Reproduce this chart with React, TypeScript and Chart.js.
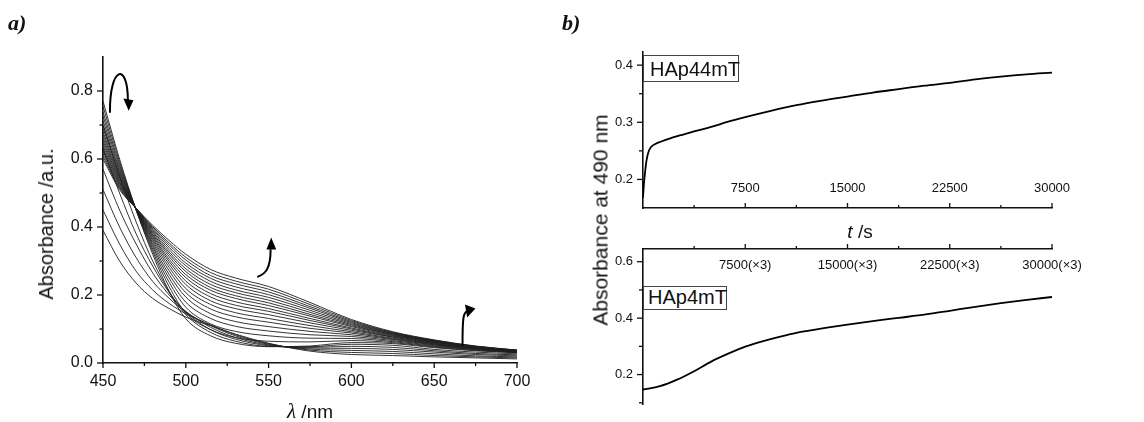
import React, { useEffect, useRef } from 'react';
import { Chart, registerables } from 'chart.js';

Chart.register(...registerables);

// ---------- Panel a) data ----------
const WAVELENGTHS = [450, 460, 470, 480, 490, 500, 515, 530, 550, 575, 600, 625, 650, 675, 700];

const EARLY_SPECTRA = [
  [0.39, 0.30, 0.235, 0.19, 0.16, 0.135, 0.11, 0.085, 0.058, 0.035, 0.025, 0.022, 0.018, 0.015, 0.012],
  [0.45, 0.35, 0.27, 0.215, 0.175, 0.145, 0.112, 0.083, 0.057, 0.038, 0.031, 0.028, 0.022, 0.018, 0.015],
  [0.51, 0.40, 0.31, 0.24, 0.19, 0.15, 0.11, 0.08, 0.055, 0.041, 0.037, 0.034, 0.027, 0.021, 0.018],
  [0.57, 0.45, 0.35, 0.265, 0.20, 0.152, 0.105, 0.075, 0.053, 0.044, 0.043, 0.04, 0.032, 0.025, 0.021],
  [0.63, 0.50, 0.38, 0.285, 0.207, 0.15, 0.098, 0.07, 0.051, 0.046, 0.049, 0.046, 0.036, 0.028, 0.024],
  [0.70, 0.55, 0.415, 0.30, 0.21, 0.142, 0.09, 0.064, 0.049, 0.048, 0.055, 0.052, 0.04, 0.032, 0.027],
  [0.77, 0.60, 0.45, 0.32, 0.21, 0.13, 0.08, 0.058, 0.048, 0.05, 0.06, 0.057, 0.045, 0.036, 0.03],
];

const LATE_SPECTRA = [
  [0.755, 0.592, 0.450, 0.328, 0.224, 0.147, 0.098, 0.075, 0.064, 0.062, 0.066, 0.060, 0.047, 0.037, 0.031],
  [0.739, 0.584, 0.451, 0.335, 0.237, 0.164, 0.115, 0.093, 0.080, 0.073, 0.072, 0.063, 0.049, 0.039, 0.031],
  [0.726, 0.577, 0.451, 0.342, 0.249, 0.179, 0.131, 0.108, 0.094, 0.083, 0.078, 0.066, 0.051, 0.040, 0.032],
  [0.713, 0.570, 0.452, 0.348, 0.260, 0.194, 0.145, 0.122, 0.107, 0.093, 0.083, 0.069, 0.053, 0.041, 0.033],
  [0.701, 0.564, 0.452, 0.354, 0.271, 0.207, 0.159, 0.136, 0.120, 0.102, 0.088, 0.071, 0.054, 0.042, 0.033],
  [0.690, 0.558, 0.452, 0.360, 0.281, 0.219, 0.172, 0.148, 0.131, 0.110, 0.092, 0.073, 0.056, 0.043, 0.034],
  [0.680, 0.552, 0.453, 0.365, 0.290, 0.231, 0.183, 0.160, 0.142, 0.118, 0.096, 0.076, 0.057, 0.043, 0.034],
  [0.671, 0.547, 0.453, 0.370, 0.298, 0.241, 0.194, 0.170, 0.152, 0.125, 0.100, 0.077, 0.058, 0.044, 0.035],
  [0.662, 0.543, 0.453, 0.374, 0.305, 0.251, 0.204, 0.180, 0.160, 0.131, 0.103, 0.079, 0.060, 0.045, 0.035],
  [0.654, 0.538, 0.453, 0.378, 0.313, 0.260, 0.214, 0.190, 0.169, 0.138, 0.107, 0.081, 0.061, 0.046, 0.035],
  [0.646, 0.534, 0.454, 0.382, 0.320, 0.269, 0.222, 0.198, 0.177, 0.143, 0.110, 0.083, 0.062, 0.046, 0.036],
  [0.638, 0.530, 0.454, 0.386, 0.326, 0.277, 0.231, 0.207, 0.185, 0.149, 0.113, 0.084, 0.063, 0.047, 0.036],
  [0.631, 0.526, 0.454, 0.390, 0.333, 0.286, 0.240, 0.215, 0.193, 0.155, 0.116, 0.086, 0.064, 0.047, 0.037],
  [0.623, 0.522, 0.454, 0.394, 0.340, 0.294, 0.249, 0.224, 0.201, 0.161, 0.119, 0.087, 0.065, 0.048, 0.037],
  [0.615, 0.518, 0.455, 0.397, 0.347, 0.303, 0.257, 0.233, 0.209, 0.166, 0.122, 0.089, 0.066, 0.049, 0.037],
  [0.608, 0.514, 0.455, 0.401, 0.353, 0.311, 0.266, 0.241, 0.217, 0.172, 0.125, 0.090, 0.067, 0.049, 0.038],
  [0.600, 0.510, 0.455, 0.405, 0.360, 0.320, 0.275, 0.250, 0.225, 0.178, 0.128, 0.092, 0.068, 0.050, 0.038],
];

const WL_TICKS = [450, 500, 550, 600, 650, 700];
const WL_MINOR = [475, 525, 575, 625, 675];
const ABS_TICKS_A = [0.0, 0.2, 0.4, 0.6, 0.8];
const ABS_MINOR_A = [0.1, 0.3, 0.5, 0.7];

// ---------- Panel b) data ----------
const T_TOP = [0, 60, 150, 250, 400, 600, 900, 1300, 2000, 3000, 3750, 5000, 6250, 7500, 9375, 11250, 13125, 15000, 16875, 18750, 20625, 22500, 24375, 26250, 28125, 30000];
const ABS_TOP = [0.168, 0.19, 0.212, 0.232, 0.248, 0.257, 0.262, 0.266, 0.272, 0.279, 0.284, 0.292, 0.301, 0.309, 0.32, 0.33, 0.338, 0.345, 0.352, 0.358, 0.364, 0.369, 0.375, 0.38, 0.384, 0.387];

const T_BOTTOM = [0, 1250, 2500, 3750, 5000, 6250, 7500, 8750, 10000, 11250, 13500, 15000, 17250, 18750, 20750, 22500, 24500, 26250, 28000, 30000];
const ABS_BOTTOM = [0.147, 0.159, 0.182, 0.212, 0.246, 0.274, 0.299, 0.318, 0.334, 0.348, 0.366, 0.377, 0.392, 0.401, 0.413, 0.426, 0.441, 0.453, 0.464, 0.475];

const T_TICKS = [7500, 15000, 22500, 30000];
const T_MINOR = [3750, 11250, 18750, 26250];
const ABS_TICKS_TOP = [0.2, 0.3, 0.4];
const ABS_MINOR_TOP = [0.25, 0.35];
const ABS_TICKS_BOTTOM = [0.2, 0.4, 0.6];
const ABS_MINOR_BOTTOM = [0.1, 0.3, 0.5];

const LEGEND_TOP = 'HAp44mT';
const LEGEND_BOTTOM = 'HAp4mT';

// ---------- styling ----------
const SANS = '"Liberation Sans", Arial, sans-serif';
const SERIF = '"Liberation Serif", "Times New Roman", serif';
const INK = '#111';

// annotation arrows for panel a), in data coordinates (wavelength, absorbance)
const ARROWS = [
  { path: [[454.2, 0.738], [454.0, 0.875], [465.0, 0.885], [465.0, 0.774]], head: [[465.5, 0.742], [462.3, 0.778], [468.4, 0.773]] },
  { path: [[543.6, 0.254], [548.2, 0.262], [551.2, 0.279], [551.2, 0.332]], head: [[551.6, 0.369], [548.7, 0.334], [554.6, 0.334]] },
  { path: [[667.1, 0.053], [667.1, 0.13], [667.4, 0.152], [670.5, 0.153]], head: [[674.9, 0.160], [668.6, 0.172], [669.9, 0.134]] },
];

type TickSpec = { axis: string; values: number[]; len: number; dir: number };

function tickMarks(specs: TickSpec[]) {
  return {
    id: 'tickMarks',
    afterDraw(chart: any) {
      const { ctx, chartArea: ca } = chart;
      ctx.save();
      ctx.strokeStyle = INK;
      ctx.lineWidth = 1.3;
      specs.forEach((s) => {
        const sc = chart.scales[s.axis];
        s.values.forEach((v) => {
          const p = sc.getPixelForValue(v);
          ctx.beginPath();
          if (sc.isHorizontal()) {
            const y0 = sc.position === 'top' ? ca.top : ca.bottom;
            ctx.moveTo(p, y0);
            ctx.lineTo(p, y0 + s.dir * s.len);
          } else {
            ctx.moveTo(ca.left, p);
            ctx.lineTo(ca.left + s.dir * s.len, p);
          }
          ctx.stroke();
        });
      });
      ctx.restore();
    },
  };
}

// tick labels placed inside the plot next to a horizontal axis
function innerXLabels(values: number[], fmt: (v: number) => string, offset: number) {
  return {
    id: 'innerXLabels',
    afterDraw(chart: any) {
      const { ctx, chartArea: ca } = chart;
      const sc = chart.scales.x;
      const y0 = sc.position === 'top' ? ca.top : ca.bottom;
      ctx.save();
      ctx.fillStyle = INK;
      ctx.font = `13px ${SANS}`;
      ctx.textAlign = 'center';
      ctx.textBaseline = 'middle';
      values.forEach((v) => {
        ctx.fillText(fmt(v), sc.getPixelForValue(v), y0 + offset);
      });
      ctx.restore();
    },
  };
}

const arrowPlugin = {
  id: 'arrows',
  afterDraw(chart: any) {
    const { ctx } = chart;
    const xs = chart.scales.x;
    const ys = chart.scales.y;
    const P = (pt: number[]) => [xs.getPixelForValue(pt[0]), ys.getPixelForValue(pt[1])];
    ctx.save();
    ctx.strokeStyle = '#000';
    ctx.fillStyle = '#000';
    ctx.lineWidth = 2;
    ctx.lineCap = 'round';
    ARROWS.forEach((a) => {
      const [p0, c1, c2, p1] = a.path.map(P);
      ctx.beginPath();
      ctx.moveTo(p0[0], p0[1]);
      ctx.bezierCurveTo(c1[0], c1[1], c2[0], c2[1], p1[0], p1[1]);
      ctx.stroke();
      const [t, b1, b2] = a.head.map(P);
      ctx.beginPath();
      ctx.moveTo(t[0], t[1]);
      ctx.lineTo(b1[0], b1[1]);
      ctx.lineTo(b2[0], b2[1]);
      ctx.closePath();
      ctx.fill();
    });
    ctx.restore();
  },
};

const fixedTicks = (values: number[]) => (scale: any) => {
  scale.ticks = values.map((v) => ({ value: v }));
};

function baseAxis(extra: any) {
  return {
    type: 'linear',
    grid: { display: false, drawTicks: false },
    border: { display: true, color: INK, width: 1.6 },
    ...extra,
  };
}

function spectraConfig(): any {
  const all = [...EARLY_SPECTRA, ...LATE_SPECTRA];
  return {
    type: 'line',
    data: {
      datasets: all.map((arr) => ({
        data: WAVELENGTHS.map((w, i) => ({ x: w, y: arr[i] })),
        borderColor: '#1e1e1e',
        borderWidth: 0.9,
        pointRadius: 0,
        fill: false,
        cubicInterpolationMode: 'monotone',
      })),
    },
    options: {
      responsive: false,
      animation: false,
      events: [],
      layout: { padding: { top: 57, right: 23, left: 0, bottom: 0 } },
      plugins: { legend: { display: false }, tooltip: { enabled: false } },
      scales: {
        x: baseAxis({
          min: 450,
          max: 700,
          afterBuildTicks: fixedTicks(WL_TICKS),
          afterFit: (s: any) => { s.height = 59; },
          ticks: { padding: 9, color: INK, maxRotation: 0, autoSkip: false, font: { family: SANS, size: 16 }, callback: (v: any) => String(v) },
        }),
        y: baseAxis({
          min: 0,
          max: 0.9,
          afterBuildTicks: fixedTicks(ABS_TICKS_A),
          afterFit: (s: any) => { s.width = 103; },
          ticks: { padding: 10, color: INK, autoSkip: false, font: { family: SANS, size: 16 }, callback: (v: any) => Number(v).toFixed(1) },
        }),
      },
    },
    plugins: [
      tickMarks([
        { axis: 'x', values: WL_TICKS, len: 5, dir: 1 },
        { axis: 'x', values: WL_MINOR, len: 3, dir: 1 },
        { axis: 'y', values: ABS_TICKS_A, len: 6, dir: -1 },
        { axis: 'y', values: ABS_MINOR_A, len: 3.5, dir: -1 },
      ]),
      arrowPlugin,
    ],
  };
}

function kineticConfig(times: number[], values: number[], isTop: boolean): any {
  return {
    type: 'line',
    data: {
      datasets: [{
        data: times.map((t, i) => ({ x: t, y: values[i] })),
        borderColor: '#000',
        borderWidth: 1.8,
        pointRadius: 0,
        fill: false,
        cubicInterpolationMode: 'monotone',
      }],
    },
    options: {
      responsive: false,
      animation: false,
      events: [],
      layout: { padding: isTop ? { top: 52, right: 92, left: 0, bottom: 0 } : { top: 0, right: 92, left: 0, bottom: 17 } },
      plugins: { legend: { display: false }, tooltip: { enabled: false } },
      scales: {
        x: baseAxis({
          position: isTop ? 'bottom' : 'top',
          min: 0,
          max: 30000,
          afterBuildTicks: fixedTicks(T_TICKS),
          afterFit: (s: any) => { s.height = isTop ? 22 : 19; },
          ticks: { display: false },
        }),
        y: baseAxis({
          min: isTop ? 0.15 : 0.095,
          max: isTop ? 0.423 : 0.645,
          afterBuildTicks: fixedTicks(isTop ? ABS_TICKS_TOP : ABS_TICKS_BOTTOM),
          afterFit: (s: any) => { s.width = 83; },
          ticks: { padding: 10, color: INK, autoSkip: false, font: { family: SANS, size: 13 }, callback: (v: any) => Number(v).toFixed(1) },
        }),
      },
    },
    plugins: [
      tickMarks([
        { axis: 'x', values: T_TICKS, len: 5, dir: -1 },
        { axis: 'x', values: T_MINOR, len: 3, dir: -1 },
        { axis: 'y', values: isTop ? ABS_TICKS_TOP : ABS_TICKS_BOTTOM, len: 6, dir: -1 },
        { axis: 'y', values: isTop ? ABS_MINOR_TOP : ABS_MINOR_BOTTOM, len: 4, dir: -1 },
      ]),
      innerXLabels(T_TICKS, (v) => (isTop ? String(v) : `${v}(×3)`), isTop ? -20 : 16),
    ],
  };
}

function ChartCanvas({ left, top, width, height, build }: { left: number; top: number; width: number; height: number; build: () => any }) {
  const ref = useRef<HTMLCanvasElement>(null);
  useEffect(() => {
    const chart = new Chart(ref.current as HTMLCanvasElement, build());
    return () => chart.destroy();
  }, []);
  return <canvas ref={ref} width={width} height={height} style={{ position: 'absolute', left, top, width, height }} />;
}

function Label({ x, baseline, size, family = SANS, weight = 'normal', fontStyle = 'normal', center = true, children }: any) {
  const top = baseline - size * (family === SERIF ? 0.8375 : 0.8465);
  return (
    <div style={{ position: 'absolute', left: x, top, fontSize: size, lineHeight: `${size}px`, fontFamily: family, fontWeight: weight, fontStyle, whiteSpace: 'nowrap', transform: center ? 'translateX(-50%)' : undefined, color: INK, zIndex: 3 }}>
      {children}
    </div>
  );
}

function VLabel({ cx, cy, size, children }: any) {
  return (
    <div style={{ position: 'absolute', left: cx, top: cy, fontSize: size, lineHeight: `${size}px`, fontFamily: SANS, whiteSpace: 'nowrap', transform: 'translate(-50%, -50%) rotate(-90deg)', color: INK, zIndex: 3 }}>
      {children}
    </div>
  );
}

function Box({ left, top, width, height }: any) {
  return <div style={{ position: 'absolute', left, top, width, height, boxSizing: 'border-box', border: '1px solid #444', background: '#fff', zIndex: 2 }} />;
}

export default function App() {
  return (
    <div style={{ position: 'absolute', left: 0, top: 0, width: 1144, height: 422, background: '#fff', overflow: 'hidden' }}>
      <ChartCanvas left={0} top={0} width={540} height={422} build={spectraConfig} />
      <ChartCanvas left={560} top={0} width={584} height={230} build={() => kineticConfig(T_TOP, ABS_TOP, true)} />
      <ChartCanvas left={560} top={230} width={584} height={192} build={() => kineticConfig(T_BOTTOM, ABS_BOTTOM, false)} />

      <Label x={8} baseline={30} size={22} family={SERIF} weight="bold" fontStyle="italic" center={false}>a)</Label>
      <Label x={562} baseline={30} size={22} family={SERIF} weight="bold" fontStyle="italic" center={false}>b)</Label>

      <VLabel cx={45.5} cy={224} size={20}>Absorbance /a.u.</VLabel>
      <Label x={310} baseline={418} size={19}>
        <span style={{ fontFamily: SERIF, fontStyle: 'italic', fontSize: 21 }}>λ</span> /nm
      </Label>

      <VLabel cx={599.5} cy={220} size={21}>Absorbance at 490 nm</VLabel>
      <Label x={860} baseline={238} size={19}>
        <span style={{ fontStyle: 'italic' }}>t</span> /s
      </Label>

      <Box left={643} top={55} width={96} height={27} />
      <Label x={650} baseline={76} size={20} center={false}>{LEGEND_TOP}</Label>
      <Box left={643} top={286} width={84} height={24} />
      <Label x={648} baseline={304} size={20} center={false}>{LEGEND_BOTTOM}</Label>
    </div>
  );
}
